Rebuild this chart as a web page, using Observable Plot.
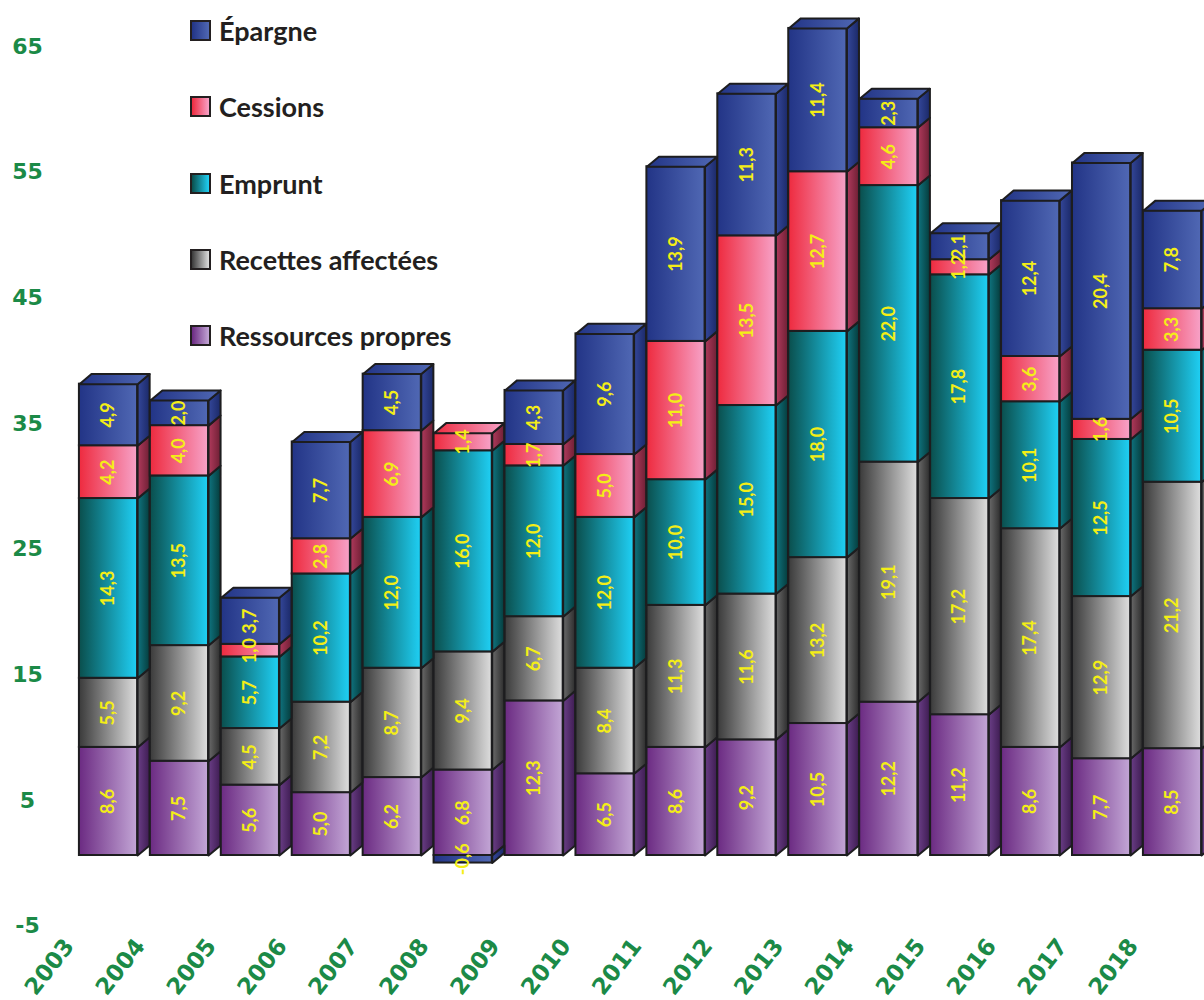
<!DOCTYPE html>
<html><head><meta charset="utf-8">
<script src="https://cdn.jsdelivr.net/npm/d3@7"></script>
<script src="https://cdn.jsdelivr.net/npm/@observablehq/plot@0.6"></script>
<style>
body{margin:0;background:#fff;}
#wrap{position:relative;width:1204px;height:1000px;overflow:hidden;}
#legend{position:absolute;left:190px;top:0;font-family:Lato,"Open Sans",sans-serif;font-size:27px;font-weight:bold;color:#231f20;}
.item{position:absolute;left:0;display:flex;align-items:center;white-space:nowrap;height:30px;}
.sw{width:17px;height:17px;border:2px solid #231f20;margin-right:8px;box-sizing:content-box;}
</style></head><body>
<div id="wrap"><div id="chart"></div><div id="legend"></div></div>
<script>
// ---- data ----
const years = [2003,2004,2005,2006,2007,2008,2009,2010,2011,2012,2013,2014,2015,2016,2017,2018];
const ressourcesPropres = [8.6,7.5,5.6,5.0,6.2,6.8,12.3,6.5,8.6,9.2,10.5,12.2,11.2,8.6,7.7,8.5];
const recettesAffectees = [5.5,9.2,4.5,7.2,8.7,9.4,6.7,8.4,11.3,11.6,13.2,19.1,17.2,17.4,12.9,21.2];
const emprunt = [14.3,13.5,5.7,10.2,12.0,16.0,12.0,12.0,10.0,15.0,18.0,22.0,17.8,10.1,12.5,10.5];
const cessions = [4.2,4.0,1.0,2.8,6.9,1.4,1.7,5.0,11.0,13.5,12.7,4.6,1.2,3.6,1.6,3.3];
const epargne = [4.9,2.0,3.7,7.7,4.5,-0.6,4.3,9.6,13.9,11.3,11.4,2.3,2.1,12.4,20.4,7.8];
const seriesNames = ["Ressources propres","Recettes affectées","Emprunt","Cessions","Épargne"];
const yTicks = [-5,5,15,25,35,45,55,65];

// ---- styles ----
const seriesValues = [ressourcesPropres, recettesAffectees, emprunt, cessions, epargne];
const frontGrad = [["#6b2a82","#c3a6d6"],["#3a3a3a","#dedede"],["#0a4e4c","#1fd0f5"],["#ee2a3e","#f7a2c8"],["#223486","#5068b4"]];
const sideGrad  = [["#6a3e86","#3e1c52"],["#6a6a6a","#2c2c2c"],["#0f7480","#053c3c"],["#b03a5c","#6e1f34"],["#34479a","#1b2968"]];
const HW = 0.41, DX = 0.17, DV = 0.8;
const AXIS_FONT = "'DejaVu Sans', Verdana, sans-serif";

// ---- build stacked segments ----
const segs = [];
const tops = [];
years.forEach((yr, i) => {
  let pos = 0, neg = 0, topK = 0;
  seriesValues.forEach((arr, k) => {
    const v = arr[i];
    let y1, y2;
    if (v >= 0) { y1 = pos; y2 = pos + v; pos = y2; topK = k; }
    else { y1 = neg + v; y2 = neg; neg = y1; }
    segs.push({year: yr, k, v, y1, y2, id: yr + "-" + k});
  });
  tops.push({year: yr, top: pos, k: topK});
});
const sidePts = segs.flatMap(s => [
  {id: s.id, k: s.k, x: s.year + HW, y: s.y1},
  {id: s.id, k: s.k, x: s.year + HW + DX, y: s.y1 + DV},
  {id: s.id, k: s.k, x: s.year + HW + DX, y: s.y2 + DV},
  {id: s.id, k: s.k, x: s.year + HW, y: s.y2},
  {id: s.id, k: s.k, x: s.year + HW, y: s.y1}
]);
const topPts = tops.flatMap(t => [
  {id: t.year, k: t.k, x: t.year - HW, y: t.top},
  {id: t.year, k: t.k, x: t.year + HW, y: t.top},
  {id: t.year, k: t.k, x: t.year + HW + DX, y: t.top + DV},
  {id: t.year, k: t.k, x: t.year - HW + DX, y: t.top + DV},
  {id: t.year, k: t.k, x: t.year - HW, y: t.top}
]);
const fmt = v => v.toFixed(1).replace(".", ",");
const STROKE = "#1d1d1f";

const marks = [];
seriesNames.forEach((name, k) => {
  marks.push(Plot.line(sidePts.filter(p => p.k === k), {x: "x", y: "y", z: "id", fill: `url(#side${k})`, stroke: STROKE, strokeWidth: 2, strokeLinejoin: "round"}));
  marks.push(Plot.rect(segs.filter(s => s.k === k), {x1: d => d.year - HW, x2: d => d.year + HW, y1: "y1", y2: "y2", fill: `url(#front${k})`, stroke: STROKE, strokeWidth: 2}));
  marks.push(Plot.line(topPts.filter(p => p.k === k), {x: "x", y: "y", z: "id", fill: `url(#front${k})`, stroke: STROKE, strokeWidth: 2, strokeLinejoin: "round"}));
});
marks.push(Plot.text(segs, {x: "year", y: d => (d.y1 + d.y2) / 2, text: d => fmt(d.v), rotate: -90, fill: "#f4ee16", fontSize: 18, fontWeight: "bold", fontFamily: "Lato, 'Open Sans', sans-serif"}));
marks.push(Plot.text(yTicks, {y: d => d, text: d => String(d), frameAnchor: "left", dx: 27, dy: 8, textAnchor: "middle", fill: "#1b8a47", fontSize: 22, fontWeight: "bold", fontFamily: AXIS_FONT}));
marks.push(Plot.text(years, {x: d => d, text: d => String(d), frameAnchor: "bottom", dx: -53, dy: -29, rotate: -52, textAnchor: "middle", fill: "#1b8a47", fontSize: 23, fontWeight: "bold", fontFamily: AXIS_FONT}));

const chart = Plot.plot({
  width: 1204, height: 1000,
  marginTop: 0, marginBottom: 0, marginLeft: 0, marginRight: 0,
  x: {type: "linear", domain: [2003, 2018], range: [108, 1172], axis: null},
  y: {type: "linear", domain: [0, 65], range: [855, 38], axis: null},
  style: {background: "#fff", overflow: "visible"},
  marks
});
document.getElementById("chart").appendChild(chart);

// gradients
const svg = d3.select(chart);
const defs = svg.insert("defs", ":first-child");
frontGrad.forEach((c, k) => {
  const g = defs.append("linearGradient").attr("id", "front" + k).attr("x1", 0).attr("x2", 1).attr("y1", 0).attr("y2", 0);
  g.append("stop").attr("offset", 0).attr("stop-color", c[0]);
  g.append("stop").attr("offset", 1).attr("stop-color", c[1]);
});
sideGrad.forEach((c, k) => {
  const g = defs.append("linearGradient").attr("id", "side" + k).attr("x1", 0).attr("x2", 1).attr("y1", 0).attr("y2", 0);
  g.append("stop").attr("offset", 0).attr("stop-color", c[0]);
  g.append("stop").attr("offset", 1).attr("stop-color", c[1]);
});

// legend (top-down: Épargne first)
const legend = document.getElementById("legend");
const legendTops = [15, 91, 168, 244, 320];
[4,3,2,1,0].forEach((k, j) => {
  const it = document.createElement("div");
  it.className = "item";
  it.style.top = legendTops[j] + "px";
  const sw = document.createElement("span");
  sw.className = "sw";
  sw.style.background = `linear-gradient(to right, ${frontGrad[k][0]}, ${frontGrad[k][1]})`;
  const tx = document.createElement("span");
  tx.textContent = seriesNames[k];
  it.appendChild(sw); it.appendChild(tx);
  legend.appendChild(it);
});
</script>
</body></html>
